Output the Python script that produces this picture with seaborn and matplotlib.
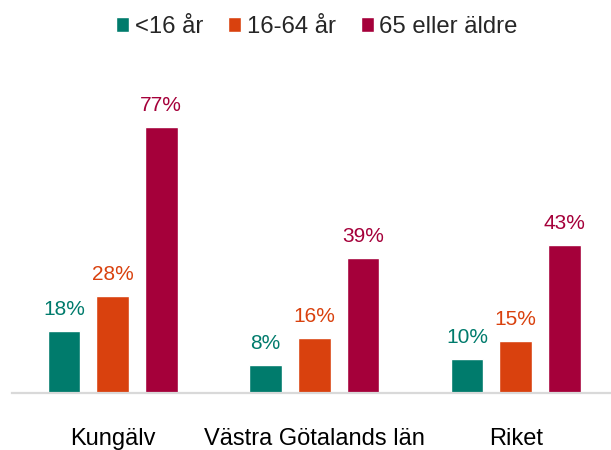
#!/usr/bin/env python3

import matplotlib.pyplot as plt
import pandas as pd
import seaborn as sns


REGIONS = ['Kungälv', 'Västra Götalands län', 'Riket']
AGE_GROUPS = ['<16 år', '16-64 år', '65 eller äldre']
UNDER_16 = [18, 8, 10]
AGE_16_64 = [28, 16, 15]
OVER_65 = [77, 39, 43]

COLORS = ['#007B6C', '#D9410E', '#A5003A']

SET_DPI = 100
FIGSIZE = (6.11, 4.5)

# pixel geometry of the plot area (category step is ~201 px)
LEFT_PX = 12
STEP_PX = 201.5
BASE_PX = 393
PX_PER_PCT = 3.45


# Long format table for seaborn
rows = []
for age, vals in zip(AGE_GROUPS, [UNDER_16, AGE_16_64, OVER_65]):
    for region, v in zip(REGIONS, vals):
        rows.append({'region': region, 'age': age, 'val': v})
df = pd.DataFrame(rows)

sns.set_style('white')
plt.rcParams['font.family'] = ['Liberation Sans', 'DejaVu Sans']

fig = plt.figure(figsize=FIGSIZE, dpi=SET_DPI)
ax_h = BASE_PX - 60
ax = fig.add_axes([LEFT_PX / 611, (450 - BASE_PX) / 450,
                   (611 - LEFT_PX) / 611, ax_h / 450])

sns.barplot(data=df, x='region', y='val', hue='age', order=REGIONS,
            hue_order=AGE_GROUPS, palette=COLORS, width=0.723, gap=0.33,
            saturation=1, ax=ax)

# Value labels above bars, in bar colour
for cont, color in zip(ax.containers, COLORS):
    for bar in cont:
        h = bar.get_height()
        ax.annotate(f'{h:.0f}%', (bar.get_x() + bar.get_width() / 2, h),
                    xytext=(0, 11.5), textcoords='offset points',
                    ha='center', va='baseline', fontsize=15, color=color)

ax.set_xlim(-0.5, -0.5 + (611 - LEFT_PX) / STEP_PX)
ax.set_ylim(0, ax_h / PX_PER_PCT)
ax.set_xlabel('')
ax.set_ylabel('')
ax.set_yticks([])
for side in ['top', 'right', 'left']:
    ax.spines[side].set_visible(False)
ax.spines['bottom'].set_color('#D9D9D9')
ax.spines['bottom'].set_linewidth(1.6)
ax.tick_params(axis='x', length=0, pad=25.5, labelsize=17, colors='black')

handles, labels = ax.get_legend_handles_labels()
ax.legend(handles, labels, loc='center', bbox_to_anchor=(317 / 611, 1 - 27 / 450),
          bbox_transform=fig.transFigure, ncol=3, frameon=False, fontsize=17.2,
          handlelength=0.54, handleheight=0.54, handletextpad=0.23,
          columnspacing=1.05, borderpad=0)

plt.savefig('out.png', dpi=SET_DPI)
plt.close()
